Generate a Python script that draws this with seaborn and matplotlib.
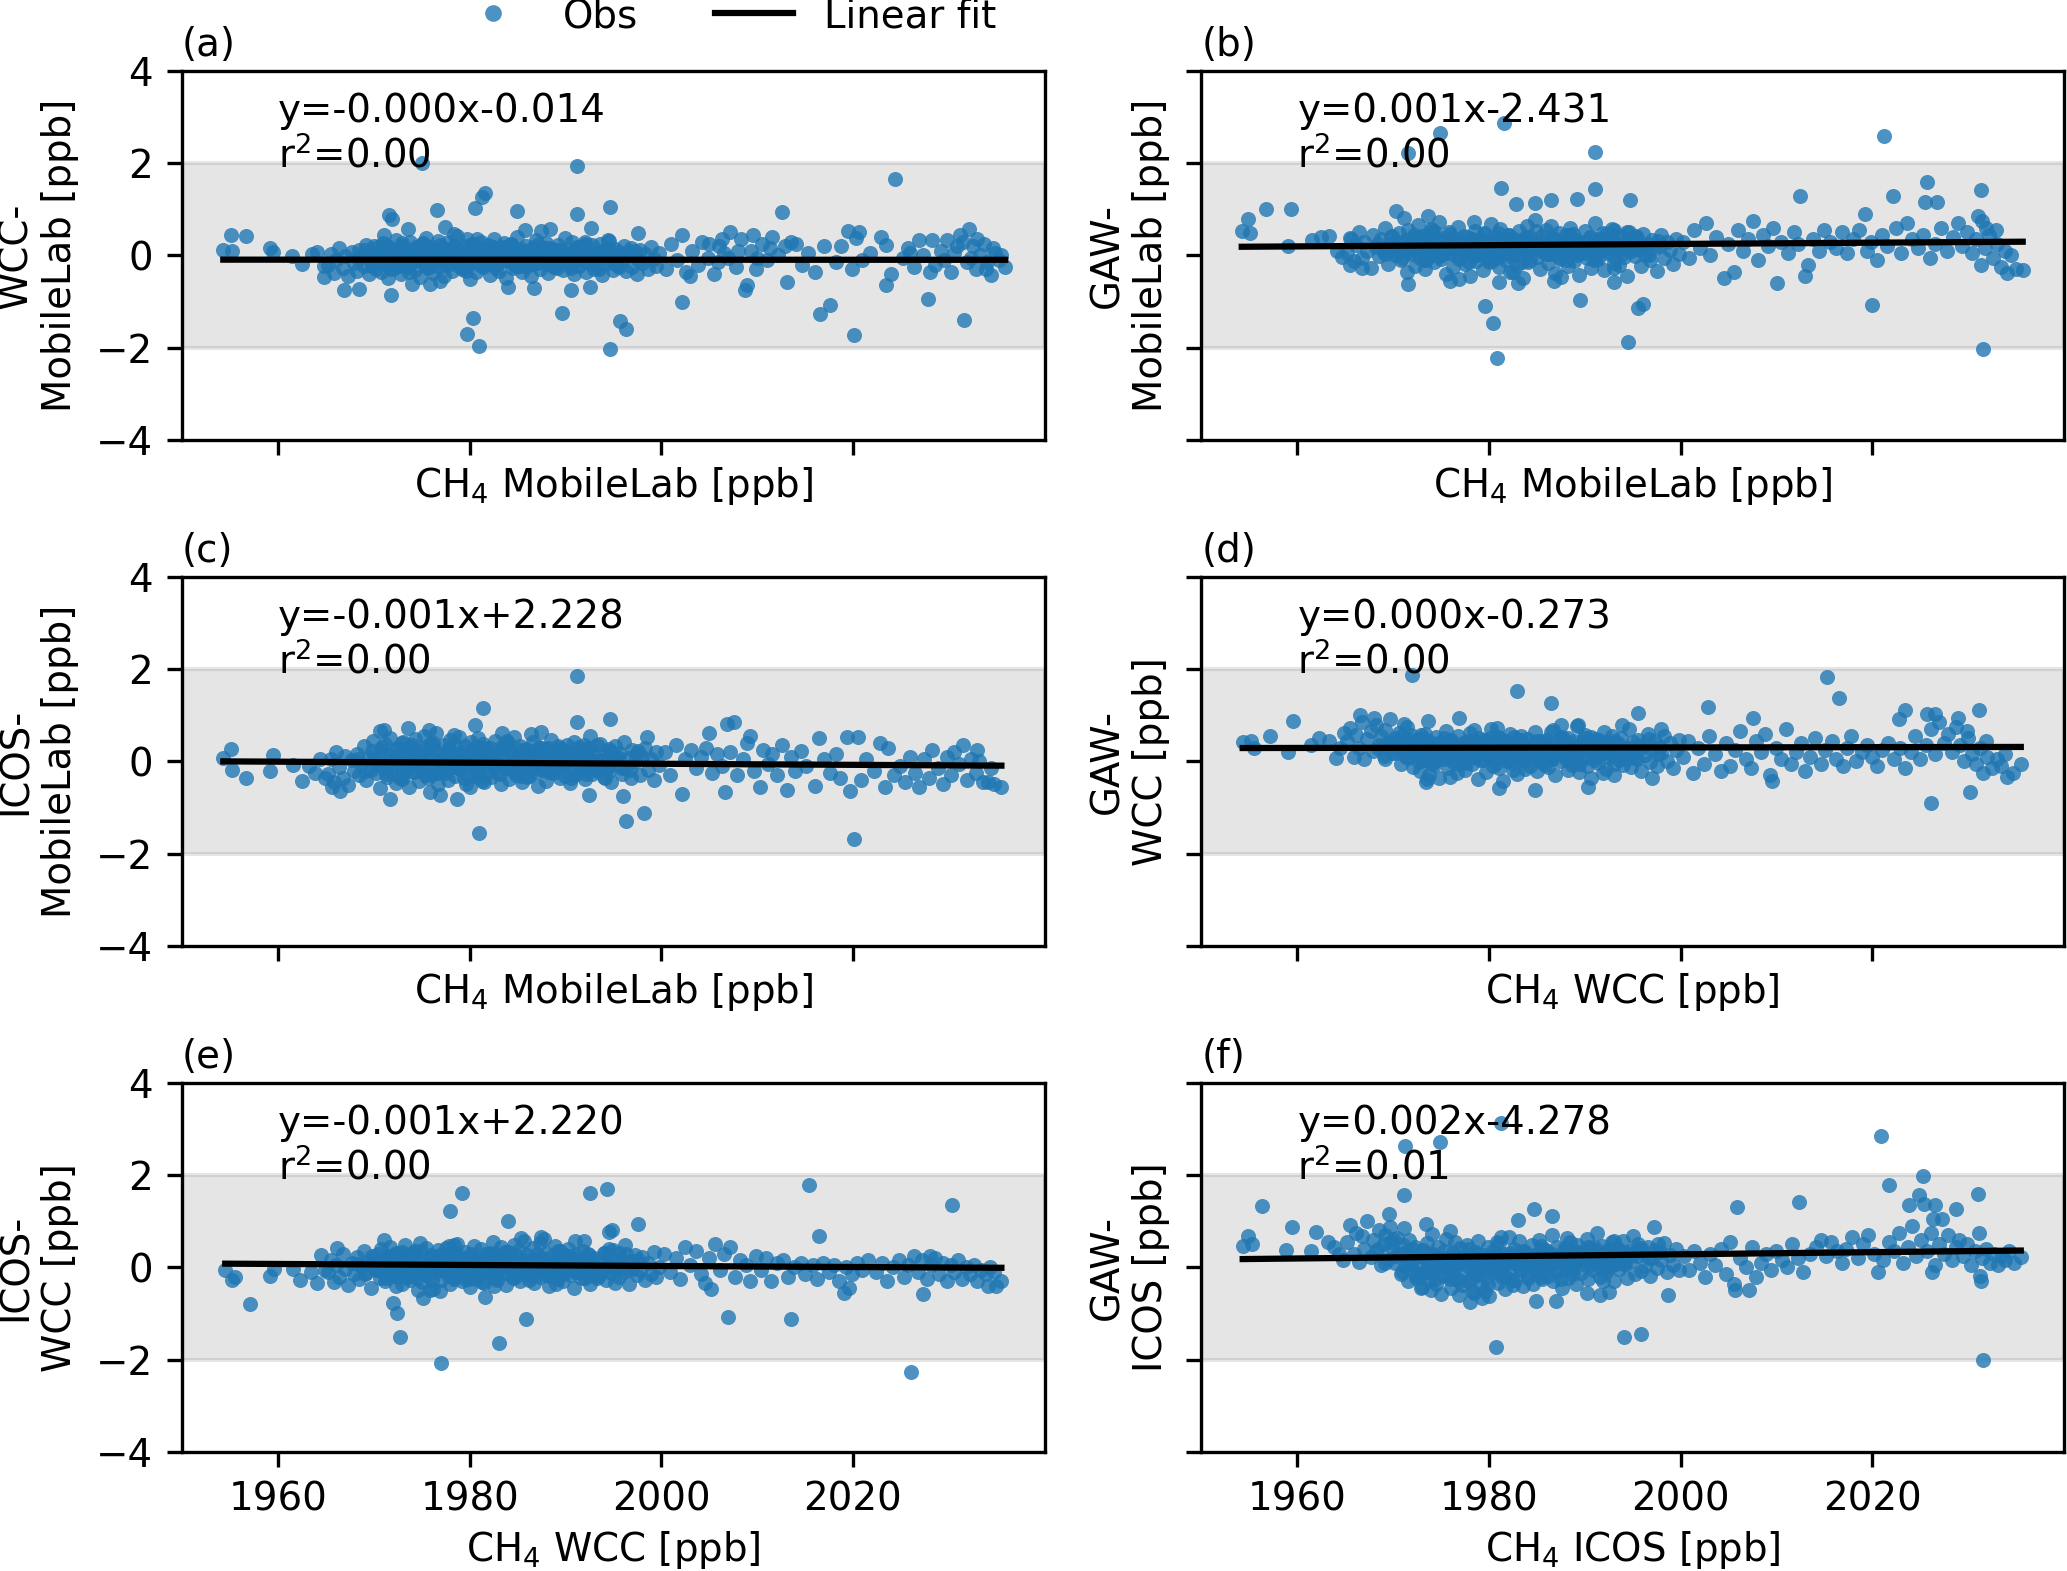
import numpy as np
import pandas as pd
import matplotlib
matplotlib.use("Agg")
import matplotlib.pyplot as plt
import seaborn as sns
from matplotlib.lines import Line2D

# CH4 values of the densely sampled core period (same observation events in every panel)
ch4_core = [
    1965.2, 1965.5, 1965.9, 1966.1, 1966.4, 1966.8, 1967.0, 1967.3, 1967.7, 1967.9,
    1968.2, 1968.5, 1968.7, 1969.0, 1969.2, 1969.5, 1969.7, 1969.9, 1970.2, 1970.4,
    1970.6, 1970.8, 1971.0, 1971.2, 1971.4, 1971.5, 1971.7, 1971.9, 1972.1, 1972.3,
    1972.4, 1972.6, 1972.8, 1973.0, 1973.1, 1973.3, 1973.5, 1973.7, 1973.8, 1974.0,
    1974.2, 1974.3, 1974.5, 1974.7, 1974.8, 1975.0, 1975.2, 1975.3, 1975.5, 1975.7,
    1975.8, 1976.0, 1976.2, 1976.3, 1976.5, 1976.7, 1976.8, 1977.0, 1977.2, 1977.3,
    1977.5, 1977.7, 1977.8, 1978.0, 1978.2, 1978.3, 1978.5, 1978.7, 1978.9, 1979.0,
    1979.2, 1979.4, 1979.5, 1979.7, 1979.9, 1980.0, 1980.2, 1980.4, 1980.5, 1980.7,
    1980.9, 1981.0, 1981.2, 1981.4, 1981.5, 1981.7, 1981.9, 1982.1, 1982.2, 1982.4,
    1982.6, 1982.7, 1982.9, 1983.1, 1983.3, 1983.4, 1983.6, 1983.8, 1984.0, 1984.1,
    1984.3, 1984.5, 1984.6, 1984.8, 1985.0, 1985.2, 1985.3, 1985.5, 1985.7, 1985.9,
    1986.0, 1986.2, 1986.4, 1986.6, 1986.7, 1986.9, 1987.1, 1987.3, 1987.4, 1987.6,
    1987.8, 1988.0, 1988.2, 1988.3, 1988.5, 1988.7, 1988.9, 1989.1, 1989.2, 1989.4,
    1989.6, 1989.8, 1990.0, 1990.2, 1990.3, 1990.5, 1990.7, 1990.9, 1991.1, 1991.3,
    1991.4, 1991.6, 1991.8, 1992.0, 1992.2, 1992.4, 1992.6, 1992.8, 1993.0, 1993.2,
    1993.4, 1993.6, 1993.8, 1994.0, 1994.2, 1994.4, 1994.6, 1994.8, 1995.0, 1995.2,
    1995.4, 1995.6, 1995.9, 1996.1, 1996.3, 1996.6, 1996.8, 1997.0, 1997.3, 1997.5,
    1997.8, 1998.0, 1998.3, 1998.6, 1998.9, 1999.2, 1999.5, 1999.8, 1971.1, 1976.9,
    1972.9, 1974.1, 1977.9, 1979.6, 1980.8, 1982.5, 1983.9, 1985.4, 1986.5, 1988.1,
    1989.0, 1990.6, 1991.9, 1993.1, 1994.5, 1973.6, 1975.9, 1978.4, 1981.3, 1987.5,
]
# extra observations in the densest part of the cloud
ch4_inner = [
    1968.4, 1969.1, 1969.8, 1970.3, 1970.9, 1971.3, 1971.8, 1972.2, 1972.7, 1973.2,
    1973.6, 1974.0, 1974.4, 1974.9, 1975.3, 1975.7, 1976.1, 1976.5, 1976.9, 1977.4,
    1977.8, 1978.2, 1978.6, 1979.1, 1979.5, 1979.9, 1980.3, 1980.7, 1981.1, 1981.6,
    1982.0, 1982.4, 1982.8, 1983.2, 1983.7, 1984.1, 1984.5, 1984.9, 1985.4, 1985.8,
    1986.2, 1986.6, 1987.0, 1987.5, 1987.9, 1988.3, 1988.8, 1989.2, 1989.7, 1990.1,
    1990.6, 1991.0, 1991.5, 1992.0, 1992.5, 1993.0, 1993.5, 1994.1, 1994.7, 1995.3,
    1971.6, 1972.5, 1973.4, 1974.2, 1975.1, 1975.9, 1976.7, 1977.6, 1978.4, 1979.3,
    1980.1, 1980.9, 1981.8, 1982.6, 1983.5, 1984.3, 1985.1, 1986.0, 1986.8, 1987.7,
    1988.5, 1989.4, 1990.3, 1991.2, 1992.2, 1993.3, 1994.4, 1995.6, 1996.7, 1997.6,
    1970.0, 1973.0, 1976.3, 1979.7, 1982.2, 1984.7, 1987.2, 1989.9, 1992.8, 1995.9,
]

# differences [ppb] for the core observations, one list per panel
dev_core_a = [
    -0.21, 0.04, -0.38, -0.10, 0.15, -0.27, -0.02, -0.45, 0.08, -0.16,
    -0.33, 0.11, -0.06, -0.24, 0.22, -0.41, -0.12, 0.03, -0.29, 0.18,
    -0.08, -0.35, 0.26, -0.19, 0.07, -0.50, 0.14, -0.04, -0.28, 0.33,
    -0.13, 0.01, -0.40, 0.21, -0.22, 0.09, -0.07, -0.36, 0.29, -0.15,
    0.05, -0.31, 0.17, -0.09, -0.47, 0.24, -0.18, 0.02, 0.38, -0.26,
    -0.05, 0.19, -0.39, 0.10, -0.14, 0.31, -0.25, -0.01, 0.16, -0.44,
    0.07, -0.20, 0.28, -0.11, -0.34, 0.13, -0.03, 0.42, -0.23, 0.00,
    -0.30, 0.20, -0.08, 0.35, -0.17, -0.52, 0.06, 0.25, -0.12, -0.37,
    0.11, -0.06, 0.30, -0.26, 0.04, -0.15, 0.22, -0.42, 0.15, -0.09,
    0.36, -0.21, 0.02, -0.33, 0.18, -0.04, 0.27, -0.48, 0.09, -0.13,
    0.24, -0.28, 0.05, -0.10, 0.40, -0.19, 0.12, -0.35, -0.02, 0.21,
    -0.24, 0.08, -0.45, 0.16, -0.07, 0.33, -0.16, 0.01, -0.30, 0.19,
    -0.11, 0.26, -0.38, 0.04, -0.20, 0.14, -0.05, -0.27, 0.23, -0.14,
    0.10, -0.32, 0.37, -0.08, -0.19, 0.06, 0.28, -0.40, 0.12, -0.02,
    -0.23, 0.17, -0.10, 0.30, -0.36, 0.03, -0.15, 0.22, -0.29, 0.08,
    -0.06, 0.25, -0.43, 0.11, -0.18, 0.34, -0.09, 0.02, -0.31, 0.14,
    -0.20, 0.07, -0.12, 0.20, -0.34, 0.00, 0.15, -0.26, 0.09, -0.40,
    0.12, -0.17, 0.04, -0.30, 0.18, -0.08, -0.22, 0.06, 0.44, -0.55,
    0.27, -0.12, 0.09, -0.33, 0.35, -0.05, 0.19, -0.24, 0.13, -0.16,
    0.03, -0.28, 0.21, -0.10, 0.31, 0.58, -0.61, 0.47, -0.18, 0.52,
]
dev_core_b = [
    0.05, 0.38, -0.12, 0.22, 0.51, -0.05, 0.30, 0.10, -0.28, 0.44,
    0.18, -0.02, 0.35, 0.08, 0.60, -0.18, 0.25, 0.42, 0.00, 0.15,
    0.48, -0.10, 0.28, 0.12, -0.35, 0.55, 0.20, 0.03, 0.37, -0.22,
    0.14, 0.66, -0.06, 0.31, 0.09, -0.30, 0.45, 0.19, -0.01, 0.58,
    0.26, -0.15, 0.40, 0.06, 0.72, -0.08, 0.33, 0.11, -0.40, 0.23,
    0.50, 0.02, 0.17, -0.25, 0.36, 0.13, 0.62, -0.04, 0.29, 0.07,
    -0.19, 0.41, 0.16, -0.45, 0.27, 0.04, 0.54, -0.12, 0.21, 0.34,
    0.10, -0.32, 0.47, 0.00, 0.24, -0.14, 0.68, 0.15, -0.05, 0.39,
    0.22, -0.26, 0.57, 0.08, 0.32, -0.09, 0.18, 0.45, -0.36, 0.12,
    0.35, 0.01, -0.21, 0.52, 0.14, 0.28, -0.48, 0.20, 0.63, 0.05,
    -0.11, 0.30, 0.17, 0.76, -0.03, 0.24, -0.29, 0.43, 0.09, 0.19,
    0.56, -0.17, 0.26, 0.04, 0.37, -0.38, 0.13, 0.49, -0.07, 0.31,
    0.02, 0.44, -0.23, 0.21, 0.60, 0.07, -0.13, 0.34, 0.16, -0.42,
    0.28, 0.11, 0.53, -0.05, 0.18, 0.40, -0.27, 0.08, 0.70, 0.23,
    -0.08, 0.35, 0.12, -0.31, 0.46, 0.19, 0.03, 0.58, -0.16, 0.27,
    0.15, -0.20, 0.42, 0.06, 0.29, -0.44, 0.51, 0.10, 0.22, -0.02,
    0.38, 0.14, -0.24, 0.47, 0.01, 0.25, -0.10, 0.33, 0.17, -0.33,
    0.20, 0.45, -0.06, 0.30, 0.12, -0.18, 0.36, 0.04, 0.81, -0.52,
    0.09, 0.55, -0.15, 0.32, 0.24, -0.37, 0.41, 0.13, 0.64, -0.09,
    0.27, 0.06, 0.48, -0.28, 0.16, 0.85, -0.55, 0.73, 0.00, -0.46,
]
dev_core_c = [
    -0.28, 0.06, -0.45, 0.20, -0.12, -0.35, 0.11, -0.52, 0.02, -0.20,
    0.15, -0.30, -0.05, 0.33, -0.40, 0.08, -0.18, 0.45, -0.26, 0.00,
    -0.58, 0.25, -0.10, 0.38, -0.33, 0.12, 0.51, -0.22, 0.04, -0.47,
    0.30, -0.14, 0.19, -0.38, 0.43, -0.03, 0.27, -0.55, 0.09, 0.36,
    -0.24, 0.48, 0.01, -0.43, 0.22, -0.16, 0.56, -0.06, 0.31, -0.36,
    0.14, -0.29, 0.40, -0.09, 0.62, -0.48, 0.17, 0.03, -0.21, 0.35,
    -0.13, 0.27, -0.41, 0.46, -0.02, 0.21, -0.31, 0.10, 0.53, -0.17,
    0.07, -0.37, 0.33, -0.11, 0.18, -0.56, 0.42, -0.04, 0.24, -0.27,
    0.50, -0.19, 0.05, 0.37, -0.44, 0.13, -0.08, 0.29, -0.33, 0.16,
    -0.02, 0.44, -0.25, 0.10, -0.50, 0.32, 0.06, -0.15, 0.39, -0.38,
    0.20, -0.07, 0.52, -0.30, 0.11, -0.20, 0.34, -0.45, 0.02, 0.26,
    -0.34, 0.15, -0.12, 0.41, -0.03, 0.23, -0.53, 0.08, 0.30, -0.18,
    0.12, -0.42, 0.28, -0.06, 0.47, -0.26, 0.04, -0.14, 0.19, -0.35,
    -0.09, 0.25, -0.31, 0.36, 0.00, -0.47, 0.17, 0.43, -0.22, 0.06,
    0.31, -0.16, 0.09, -0.39, 0.22, -0.05, 0.55, -0.28, 0.13, -0.10,
    -0.21, 0.38, 0.03, -0.34, 0.16, -0.12, 0.26, -0.44, 0.08, 0.33,
    -0.06, 0.19, -0.27, 0.42, -0.15, 0.07, -0.37, 0.24, -0.01, 0.15,
    -0.30, 0.10, 0.28, -0.18, 0.05, -0.40, 0.20, -0.08, 0.68, -0.72,
    0.40, -0.23, 0.14, -0.49, 0.32, -0.07, 0.45, -0.31, 0.21, -0.12,
    0.18, -0.36, 0.35, 0.01, -0.20, 0.72, -0.66, 0.58, -0.43, 0.64,
]
dev_core_d = [
    0.45, 0.72, 0.10, 0.58, 0.30, 0.85, 0.05, 0.48, 0.66, 0.22,
    0.80, 0.35, 0.55, 0.12, 0.69, 0.40, 0.91, 0.18, 0.50, 0.28,
    0.62, -0.05, 0.44, 0.20, 0.75, 0.08, 0.36, 0.57, -0.12, 0.31,
    0.15, 0.49, -0.20, 0.38, 0.02, 0.60, 0.25, -0.30, 0.43, 0.11,
    0.33, -0.08, 0.52, 0.19, -0.35, 0.41, 0.06, 0.28, 0.65, -0.15,
    0.24, 0.47, -0.02, 0.35, 0.13, -0.25, 0.54, 0.21, 0.04, 0.39,
    -0.18, 0.30, 0.16, 0.61, -0.06, 0.42, 0.09, 0.26, -0.38, 0.50,
    0.20, 0.03, 0.46, -0.22, 0.34, 0.14, 0.70, -0.10, 0.27, 0.08,
    0.52, -0.14, 0.37, 0.18, -0.42, 0.45, 0.01, 0.29, 0.59, -0.04,
    0.23, 0.40, -0.27, 0.12, 0.56, 0.05, 0.33, -0.16, 0.48, 0.17,
    -0.09, 0.36, 0.10, 0.63, -0.21, 0.25, 0.44, -0.01, 0.31, 0.15,
    0.47, -0.12, 0.28, 0.07, 0.68, -0.30, 0.19, 0.40, 0.00, 0.53,
    0.11, 0.34, -0.19, 0.50, 0.22, -0.07, 0.45, 0.14, 0.76, -0.24,
    0.30, 0.05, 0.58, -0.11, 0.26, 0.41, -0.36, 0.18, 0.49, 0.09,
    -0.03, 0.43, 0.21, 0.64, -0.17, 0.32, 0.10, 0.55, -0.29, 0.24,
    0.38, 0.02, 0.51, -0.08, 0.29, 0.16, 0.71, -0.13, 0.42, 0.20,
    0.06, 0.47, -0.20, 0.35, 0.13, 0.60, -0.02, 0.27, 0.44, -0.10,
    0.32, 0.18, 0.54, 0.00, 0.39, -0.15, 0.25, 0.46, 0.82, 0.95,
    0.57, -0.06, 0.41, 0.23, 0.73, -0.18, 0.36, 0.11, 0.64, 0.02,
    0.29, 0.52, -0.25, 0.44, 0.16, 0.88, -0.33, 0.67, 0.48, 0.78,
]
dev_core_e = [
    -0.10, 0.15, -0.32, 0.05, -0.20, 0.28, -0.04, -0.38, 0.10, -0.15,
    0.22, -0.26, 0.02, 0.35, -0.12, 0.08, -0.44, 0.18, -0.06, 0.30,
    -0.22, 0.40, 0.00, -0.30, 0.25, -0.08, 0.45, -0.18, 0.12, -0.40,
    0.32, -0.02, 0.20, -0.35, 0.06, 0.48, -0.14, 0.27, -0.27, 0.14,
    -0.07, 0.36, -0.24, 0.09, 0.52, -0.31, 0.17, -0.01, 0.41, -0.19,
    0.04, 0.26, -0.47, 0.13, -0.11, 0.38, 0.00, -0.28, 0.21, -0.05,
    0.43, -0.16, 0.11, -0.36, 0.29, 0.03, -0.21, 0.50, -0.09, 0.16,
    -0.30, 0.07, 0.34, -0.13, 0.19, -0.42, 0.24, -0.03, 0.46, -0.25,
    0.10, -0.18, 0.39, 0.01, -0.33, 0.22, -0.08, 0.31, -0.15, 0.55,
    -0.04, 0.28, -0.27, 0.15, 0.44, -0.12, 0.06, -0.38, 0.33, 0.00,
    0.20, -0.22, 0.49, -0.06, 0.12, 0.37, -0.29, 0.08, 0.58, -0.14,
    0.27, -0.10, 0.02, 0.42, -0.34, 0.18, -0.02, 0.53, -0.20, 0.11,
    -0.15, 0.32, 0.06, -0.40, 0.23, -0.07, 0.47, 0.14, -0.25, 0.36,
    0.09, -0.30, 0.26, -0.01, 0.40, -0.17, 0.13, -0.45, 0.30, -0.05,
    0.17, -0.24, 0.35, 0.04, -0.12, 0.28, -0.37, 0.10, 0.21, -0.08,
    -0.19, 0.14, -0.03, 0.31, -0.28, 0.07, 0.24, -0.13, 0.38, -0.33,
    0.05, -0.20, 0.19, -0.09, 0.30, -0.35, 0.12, -0.02, 0.26, -0.16,
    -0.06, 0.22, -0.27, 0.10, -0.14, 0.33, -0.21, 0.01, 0.60, -0.52,
    0.34, -0.11, 0.46, -0.26, 0.15, -0.40, 0.27, 0.63, -0.18, 0.08,
    -0.35, 0.20, 0.57, -0.12, 0.39, 0.25, -0.50, 0.48, -0.31, 0.66,
]
dev_core_f = [
    0.55, 0.92, 0.30, 0.75, 0.12, 0.68, 0.40, 1.00, 0.22, 0.60,
    0.35, 0.82, 0.05, 0.50, 0.70, 0.18, 0.88, 0.42, 0.10, 0.64,
    0.28, -0.15, 0.48, 0.02, 0.36, -0.30, 0.60, 0.14, -0.05, 0.44,
    -0.22, 0.25, 0.08, -0.42, 0.38, -0.10, 0.52, -0.28, 0.16, -0.50,
    0.30, -0.06, -0.35, 0.45, 0.04, -0.58, 0.20, -0.18, 0.62, -0.02,
    0.12, -0.45, 0.34, -0.12, 0.56, -0.26, 0.07, 0.41, -0.38, 0.18,
    -0.08, 0.48, -0.30, 0.22, -0.52, 0.10, 0.33, -0.16, 0.58, 0.00,
    -0.40, 0.27, 0.05, -0.24, 0.44, -0.62, 0.15, 0.36, -0.10, 0.21,
    -0.33, 0.53, 0.02, -0.20, 0.30, -0.47, 0.11, 0.66, -0.14, 0.24,
    0.40, -0.28, 0.09, 0.57, -0.05, 0.19, -0.40, 0.31, 0.03, -0.22,
    0.14, 0.49, -0.35, 0.26, -0.12, 0.60, 0.06, -0.25, 0.38, -0.02,
    0.33, -0.18, 0.12, 0.70, -0.30, 0.21, 0.45, -0.08, 0.17, -0.44,
    0.08, 0.39, -0.22, 0.27, 0.55, -0.04, 0.13, -0.36, 0.48, 0.20,
    -0.12, 0.34, 0.05, 0.62, -0.26, 0.16, 0.42, -0.06, 0.25, 0.74,
    0.10, -0.20, 0.46, 0.22, -0.10, 0.36, 0.00, 0.54, -0.30, 0.28,
    0.41, -0.04, 0.19, 0.58, 0.07, -0.24, 0.35, 0.13, 0.67, -0.14,
    0.24, 0.50, -0.08, 0.31, 0.02, 0.44, -0.18, 0.20, 0.38, -0.01,
    0.33, 0.15, 0.52, -0.10, 0.27, 0.06, 0.40, -0.05, 0.85, -0.60,
    -0.45, 0.72, 0.40, -0.52, 0.55, -0.38, 0.16, 0.47, 0.10, 0.63,
    0.35, 0.05, -0.30, 0.58, 0.30, 0.10, 0.78, -0.55, 0.66, -0.25,
]

# differences [ppb] for the inner (densest) observations, one list per panel
dev_inner_a = [
    -0.05, 0.12, -0.22, 0.03, -0.15, 0.20, -0.30, 0.08, -0.10, 0.15,
    -0.25, 0.00, 0.18, -0.12, 0.06, -0.28, 0.10, -0.03, 0.22, -0.18,
    0.04, -0.08, 0.16, -0.24, 0.09, -0.14, 0.25, -0.02, -0.20, 0.13,
    -0.07, 0.19, -0.27, 0.05, -0.11, 0.21, -0.16, 0.01, 0.14, -0.23,
    0.07, -0.19, 0.23, -0.04, -0.13, 0.17, -0.26, 0.11, -0.06, 0.02,
    -0.21, 0.14, -0.09, 0.24, -0.17, 0.06, -0.29, 0.10, -0.01, -0.14,
    0.18, -0.22, 0.02, -0.10, 0.26, -0.16, 0.08, -0.05, 0.20, -0.27,
    0.12, -0.02, -0.18, 0.15, -0.08, 0.22, -0.24, 0.04, -0.12, 0.17,
    -0.20, 0.09, -0.06, 0.19, -0.15, 0.00, 0.13, -0.26, 0.07, -0.11,
    0.21, -0.17, 0.05, -0.09, 0.16, -0.23, 0.11, -0.03, -0.19, 0.03,
]
dev_inner_b = [
    0.25, 0.02, 0.40, 0.15, -0.05, 0.33, 0.08, 0.45, 0.18, -0.10,
    0.30, 0.12, 0.50, -0.02, 0.22, 0.38, 0.05, 0.27, -0.08, 0.42,
    0.16, 0.35, 0.00, 0.24, 0.48, 0.10, -0.12, 0.32, 0.20, 0.06,
    0.44, -0.04, 0.28, 0.13, 0.36, -0.15, 0.21, 0.52, 0.09, 0.30,
    0.03, 0.41, 0.17, -0.06, 0.34, 0.23, 0.47, 0.01, 0.26, 0.14,
    0.39, -0.09, 0.19, 0.31, 0.07, 0.55, 0.11, -0.03, 0.29, 0.43,
    0.15, 0.37, -0.11, 0.22, 0.04, 0.46, 0.25, 0.12, -0.01, 0.33,
    0.18, 0.49, 0.08, 0.28, -0.14, 0.40, 0.20, 0.02, 0.35, 0.16,
    0.44, 0.06, 0.26, -0.07, 0.38, 0.13, 0.51, 0.21, 0.00, 0.32,
    0.10, 0.42, 0.24, -0.05, 0.36, 0.17, 0.29, 0.05, 0.45, 0.19,
]
dev_inner_c = [
    0.05, -0.20, 0.22, -0.08, 0.31, -0.27, 0.12, -0.02, -0.35, 0.18,
    -0.12, 0.28, -0.04, 0.15, -0.30, 0.09, 0.36, -0.18, 0.02, -0.25,
    0.20, -0.10, 0.33, -0.06, 0.11, -0.32, 0.25, -0.15, 0.07, 0.29,
    -0.22, 0.01, 0.17, -0.28, 0.38, -0.09, 0.13, -0.19, 0.24, -0.03,
    -0.31, 0.19, 0.06, -0.14, 0.27, -0.24, 0.10, 0.34, -0.07, 0.00,
    0.21, -0.29, 0.14, -0.11, 0.30, -0.17, 0.04, -0.36, 0.23, 0.08,
    -0.05, 0.26, -0.21, 0.16, -0.01, 0.37, -0.26, 0.12, -0.13, 0.20,
    0.03, -0.33, 0.18, -0.08, 0.31, -0.16, 0.09, 0.24, -0.23, 0.05,
    -0.10, 0.28, -0.02, 0.15, -0.27, 0.35, -0.12, 0.07, -0.19, 0.22,
    0.11, -0.30, 0.25, -0.04, 0.17, -0.22, 0.32, -0.09, 0.02, -0.15,
]
dev_inner_d = [
    0.30, 0.05, 0.42, 0.18, 0.55, 0.10, 0.36, 0.22, -0.02, 0.48,
    0.14, 0.33, 0.01, 0.26, 0.50, 0.08, 0.39, 0.20, -0.05, 0.31,
    0.45, 0.12, 0.28, 0.03, 0.37, 0.19, 0.52, -0.04, 0.24, 0.41,
    0.09, 0.34, 0.17, 0.47, 0.00, 0.29, 0.13, 0.44, 0.21, -0.07,
    0.35, 0.06, 0.27, 0.51, 0.15, 0.38, -0.01, 0.23, 0.43, 0.11,
    0.32, 0.02, 0.46, 0.19, 0.27, -0.06, 0.40, 0.16, 0.30, 0.08,
    0.49, 0.21, 0.04, 0.36, 0.13, 0.44, 0.25, -0.03, 0.33, 0.18,
    0.07, 0.41, 0.22, 0.53, 0.10, 0.29, 0.00, 0.38, 0.15, 0.46,
    0.24, -0.05, 0.35, 0.12, 0.42, 0.27, 0.06, 0.31, 0.48, 0.17,
    0.39, 0.09, 0.26, 0.44, 0.03, 0.34, 0.20, 0.50, 0.14, 0.28,
]
dev_inner_e = [
    0.08, -0.15, 0.25, -0.05, 0.18, -0.24, 0.02, 0.30, -0.10, 0.12,
    -0.20, 0.22, -0.02, 0.35, -0.13, 0.06, -0.28, 0.16, 0.27, -0.07,
    0.10, -0.18, 0.32, -0.01, 0.20, -0.26, 0.04, 0.14, -0.11, 0.28,
    -0.04, 0.19, -0.22, 0.09, 0.33, -0.14, 0.01, 0.24, -0.08, 0.15,
    -0.27, 0.11, 0.29, -0.03, 0.17, -0.19, 0.07, 0.36, -0.12, 0.03,
    0.21, -0.09, 0.13, -0.23, 0.26, 0.00, -0.16, 0.31, 0.05, -0.06,
    0.18, -0.21, 0.09, 0.34, -0.11, 0.14, -0.02, 0.23, -0.25, 0.06,
    0.28, -0.08, 0.16, -0.17, 0.02, 0.30, -0.13, 0.11, -0.04, 0.20,
    -0.19, 0.07, 0.25, -0.10, 0.13, -0.24, 0.04, 0.32, -0.06, 0.17,
    0.00, -0.15, 0.22, -0.03, 0.27, -0.20, 0.10, 0.19, -0.09, 0.12,
]
dev_inner_f = [
    0.40, 0.10, 0.55, 0.25, -0.10, 0.30, 0.05, 0.38, -0.15, 0.20,
    -0.05, 0.28, -0.25, 0.12, 0.35, -0.18, 0.08, 0.25, -0.30, 0.15,
    0.02, -0.22, 0.30, -0.08, 0.18, -0.35, 0.10, 0.32, -0.12, 0.05,
    0.22, -0.28, 0.14, -0.02, 0.36, -0.16, 0.07, 0.26, -0.20, 0.12,
    0.00, 0.30, -0.10, 0.20, 0.42, 0.06, -0.14, 0.27, 0.15, 0.35,
    0.10, 0.45, 0.18, -0.05, 0.30, 0.22, 0.40, 0.08, 0.25, 0.33,
    0.20, -0.18, 0.32, -0.10, 0.15, -0.25, 0.06, 0.28, -0.14, 0.18,
    -0.04, 0.24, -0.20, 0.10, 0.34, 0.02, 0.22, 0.38, 0.12, 0.30,
    0.05, 0.26, 0.44, 0.16, 0.35, 0.08, 0.28, 0.40, 0.20, 0.50,
    0.62, -0.15, 0.25, -0.08, 0.32, 0.00, 0.18, 0.36, 0.14, 0.42,
]

# sparse observations and outliers outside the core cloud: (CH4, difference)
obs_extra_a = [
    (1954.3, 0.12), (1955.2, 0.09), (1955.1, 0.45), (1956.7, 0.43), (1959.2, 0.15), (1959.5, 0.08),
    (1961.5, -0.02), (1962.5, -0.18), (1963.6, 0.02), (1964.1, 0.07), (1964.8, -0.24), (1964.8, -0.47),
    (1966.9, -0.76), (1968.5, -0.73), (1971.6, 0.87), (1971.9, 0.78), (1971.8, -0.85), (1975.0, 2.00),
    (1976.6, 0.98), (1979.7, -1.71), (1980.4, -1.36), (1980.6, 1.02), (1981.0, -1.96), (1981.3, 1.27),
    (1981.6, 1.36), (1984.9, 0.97), (1989.6, -1.24), (1991.2, 0.89), (1991.2, 1.94), (1994.7, 1.04),
    (1994.7, -2.02), (1995.7, -1.43), (1996.3, -1.60), (1977.4, 0.62), (1985.8, 0.55), (1988.4, 0.58),
    (1992.7, 0.60), (1974.0, -0.62), (1986.7, -0.70), (1992.6, -0.68), (1990.6, -0.75), (1984.0, -0.68),
    (1997.6, 0.48),
    (2000.5, -0.30), (2001.0, 0.25), (2001.6, -0.10), (2002.2, -1.02), (2002.2, 0.45), (2002.6, -0.35),
    (2003.2, 0.10), (2003.8, -0.20), (2004.3, 0.30), (2004.9, -0.05), (2005.5, -0.40), (2006.0, 0.20),
    (2006.6, 0.05), (2007.2, 0.50), (2007.8, -0.25), (2008.3, 0.35), (2008.7, -0.76), (2009.0, -0.65),
    (2009.4, 0.10), (2009.9, -0.30), (2010.5, 0.25), (2011.0, -0.10), (2011.6, 0.40), (2012.2, 0.00),
    (2012.6, 0.95), (2013.1, -0.58), (2013.5, 0.30), (2014.1, 0.25), (2014.7, -0.20), (2015.3, 0.05),
    (2016.0, -0.35), (2016.6, -1.27), (2017.0, 0.20), (2017.6, -1.07), (2018.2, -0.15), (2018.8, 0.20),
    (2019.5, 0.53), (2019.9, -0.30), (2020.3, 0.38), (2020.6, 0.51), (2020.1, -1.72), (2021.0, -0.10),
    (2021.8, 0.05), (2022.9, 0.39), (2023.5, 0.22), (2023.5, -0.65), (2024.0, -0.41), (2024.4, 1.65),
    (2025.2, -0.05), (2025.8, 0.15), (2026.4, -0.25), (2026.9, 0.34), (2027.3, 0.00), (2027.8, -0.95),
    (2028.3, 0.33), (2028.6, -0.20), (2029.2, 0.10), (2029.8, 0.33), (2030.2, -0.35), (2030.6, 0.05),
    (2031.2, 0.44), (2031.6, -1.40), (2031.9, -0.15), (2032.1, 0.57), (2032.5, 0.20), (2032.9, -0.30),
    (2033.3, 0.00), (2033.7, 0.25), (2034.0, -0.15), (2034.4, -0.42), (2034.8, 0.05), (2035.3, -0.10),
    (2035.9, -0.25), (2003.0, -0.45), (2005.0, 0.25), (2005.9, -0.15), (2006.3, 0.35), (2007.0, -0.05),
    (2008.0, 0.10), (2009.6, 0.45), (2010.0, -0.05), (2011.3, 0.15), (2012.9, 0.20), (2026.0, 0.05),
    (2028.0, -0.35), (2029.5, -0.10), (2030.9, 0.20), (2032.3, -0.05), (2033.0, 0.35), (2033.9, -0.30),
    (2034.6, 0.15), (2035.5, 0.00), (2031.5, 0.30),
]
obs_extra_b = [
    (1954.2, 0.52), (1955.1, 0.49), (1954.9, 0.79), (1956.7, 1.00), (1959.3, 1.01), (1959.0, 0.20),
    (1961.5, 0.33), (1962.5, 0.39), (1963.3, 0.43), (1964.1, 0.10), (1964.7, -0.04), (1965.5, -0.20),
    (1966.8, -0.28), (1965.6, 0.35),
    (1981.6, 2.87), (1974.9, 2.66), (1971.6, 2.22), (1991.1, 2.25), (2021.2, 2.59), (1981.3, 1.46),
    (1991.1, 1.43), (2025.7, 1.60), (2031.3, 1.42), (2022.2, 1.28), (2012.5, 1.29), (1994.7, 1.21),
    (1982.8, 1.11), (1984.8, 1.14), (1986.5, 1.20), (1989.2, 1.22), (2025.5, 1.15), (2026.8, 1.15),
    (1970.3, 0.97), (2019.2, 0.90), (2031.0, 0.86), (2031.5, 0.75), (1980.8, -2.22), (1980.4, -1.46),
    (1979.6, -1.10), (1989.5, -0.96), (1994.5, -1.87), (1995.6, -1.14), (1996.1, -1.06), (2020.0, -1.08),
    (2031.6, -2.04), (1971.6, -0.63), (1981.1, -0.58), (1983.0, -0.60), (1986.8, -0.55), (1993.0, -0.58),
    (2000.3, 0.30), (2000.9, -0.05), (2001.4, 0.55), (2002.0, 0.15), (2002.6, 0.70), (2003.1, 0.00),
    (2003.7, 0.40), (2004.5, -0.48), (2004.9, 0.25), (2005.6, -0.37), (2006.0, 0.55), (2006.5, 0.10),
    (2007.0, 0.35), (2007.6, 0.75), (2008.1, -0.10), (2008.6, 0.45), (2009.1, 0.20), (2009.6, 0.60),
    (2010.1, -0.59), (2010.5, 0.30), (2011.2, 0.05), (2011.8, 0.50), (2012.3, 0.25), (2013.0, -0.44),
    (2013.3, -0.20), (2013.8, 0.35), (2014.4, 0.10), (2015.0, 0.55), (2015.6, 0.30), (2016.2, 0.15),
    (2016.8, 0.50), (2017.4, 0.05), (2018.0, 0.35), (2018.6, 0.55), (2019.4, 0.10), (2019.9, 0.30),
    (2020.5, -0.10), (2021.0, 0.45), (2021.5, 0.20), (2022.5, 0.60), (2023.0, 0.05), (2023.6, 0.70),
    (2024.2, 0.35), (2024.8, 0.15), (2025.3, 0.45), (2026.0, -0.05), (2026.5, 0.25), (2027.2, 0.60),
    (2027.8, 0.10), (2028.4, 0.40), (2028.9, 0.70), (2029.4, 0.20), (2029.9, 0.50), (2030.4, 0.05),
    (2030.8, 0.35), (2031.3, -0.20), (2031.8, 0.15), (2032.2, 0.45), (2032.6, -0.05), (2033.0, 0.25),
    (2033.4, -0.25), (2033.9, 0.10), (2034.1, -0.39), (2034.5, 0.00), (2035.0, -0.30), (2035.7, -0.32),
    (2032.9, 0.55), (2031.9, 0.60),
]
obs_extra_c = [
    (1954.3, 0.07), (1955.1, 0.27), (1955.2, -0.18), (1956.7, -0.37), (1959.2, -0.20), (1959.5, 0.13),
    (1961.6, -0.08), (1962.5, -0.42), (1963.2, -0.10), (1963.9, -0.25), (1964.4, 0.05), (1964.9, -0.35),
    (1965.6, -0.55), (1966.5, -0.65),
    (1991.2, 1.85), (1981.4, 1.16), (1991.2, 0.85), (1994.7, 0.93), (2006.9, 0.82), (2007.6, 0.85),
    (2005.0, 0.61), (1981.0, -1.56), (1996.3, -1.30), (1998.2, -1.13), (2020.1, -1.69), (1971.7, -0.82),
    (1978.7, -0.82), (1996.0, -0.76), (1970.6, 0.65), (1975.8, 0.68), (1980.6, 0.80), (1983.4, 0.62),
    (1986.4, 0.60), (1992.5, -0.72), (1998.5, 0.52),
    (2000.4, 0.20), (2000.9, -0.30), (2001.5, 0.35), (2002.2, -0.71), (2002.5, 0.05), (2003.1, 0.25),
    (2003.6, -0.15), (2004.2, 0.10), (2004.7, 0.30), (2005.3, -0.25), (2005.8, 0.15), (2006.3, -0.10),
    (2006.7, -0.67), (2007.2, 0.20), (2007.9, -0.30), (2008.5, 0.05), (2009.0, 0.40), (2009.3, 0.55),
    (2009.7, -0.20), (2010.3, -0.56), (2010.6, 0.25), (2011.1, -0.05), (2011.6, 0.15), (2012.1, -0.30),
    (2012.6, 0.35), (2013.1, -0.62), (2013.5, 0.10), (2014.0, -0.20), (2014.6, 0.22), (2015.1, -0.10),
    (2016.0, -0.53), (2016.5, 0.50), (2017.0, 0.05), (2017.6, -0.25), (2018.2, 0.15), (2018.7, -0.35),
    (2019.4, 0.52), (2019.7, -0.64), (2020.5, 0.52), (2020.9, -0.40), (2021.4, 0.05), (2022.2, -0.20),
    (2022.8, 0.40), (2023.4, -0.55), (2023.7, 0.30), (2024.3, -0.30), (2024.9, -0.10), (2025.4, -0.45),
    (2026.0, 0.10), (2026.5, -0.25), (2026.9, -0.55), (2027.4, 0.05), (2027.9, -0.35), (2028.3, 0.25),
    (2028.9, -0.15), (2029.4, -0.50), (2029.8, 0.10), (2030.2, -0.30), (2030.6, 0.20), (2031.1, -0.05),
    (2031.5, 0.35), (2031.9, -0.40), (2032.3, 0.05), (2032.8, -0.25), (2033.2, 0.00), (2033.6, -0.45),
    (2034.1, -0.45), (2034.7, -0.50), (2035.5, -0.55), (2033.0, 0.25), (2034.4, -0.15),
]
obs_extra_d = [
    (1954.3, 0.43), (1955.2, 0.45), (1955.5, 0.29), (1957.1, 0.54), (1959.0, 0.20), (1959.5, 0.88),
    (1961.4, 0.35), (1962.3, 0.50), (1963.3, 0.45), (1964.0, 0.07), (1964.5, 0.30), (1964.9, 0.62),
    (1972.0, 1.87), (1982.9, 1.53), (1986.5, 1.27), (2002.9, 1.19), (2015.3, 1.82), (2016.5, 1.38),
    (1995.6, 1.06), (2007.6, 0.95), (2023.4, 1.11), (2022.8, 0.93), (2025.7, 1.02), (2026.6, 1.03),
    (2031.1, 1.11), (2028.9, 0.95), (2026.1, -0.90), (2030.2, -0.66), (2034.1, -0.34), (2034.7, -0.26),
    (2035.5, -0.05), (1981.1, -0.58), (1984.8, -0.61), (1990.3, -0.56), (1973.4, -0.45), (1973.5, -0.38),
    (1966.5, 1.00), (1968.0, 0.95), (1989.3, 0.78), (1993.9, 0.80), (1997.0, -0.35), (1998.0, 0.70),
    (2000.3, 0.10), (2000.8, 0.45), (2001.3, -0.25), (2001.8, 0.30), (2002.4, -0.05), (2003.0, 0.55),
    (2003.6, 0.15), (2004.2, -0.20), (2004.7, 0.40), (2005.2, -0.10), (2005.7, 0.25), (2006.2, 0.65),
    (2006.8, 0.05), (2007.3, -0.15), (2007.9, 0.45), (2008.4, 0.20), (2008.8, 0.60), (2009.3, -0.30),
    (2009.5, -0.42), (2010.0, 0.30), (2010.5, 0.05), (2011.0, 0.70), (2011.5, -0.05), (2012.0, 0.20),
    (2012.6, 0.40), (2013.0, -0.20), (2013.5, 0.10), (2014.0, 0.50), (2014.6, -0.05), (2015.1, 0.25),
    (2015.8, 0.45), (2016.2, 0.05), (2016.9, -0.10), (2017.4, 0.30), (2017.8, 0.55), (2018.3, 0.00),
    (2018.9, 0.20), (2019.5, 0.35), (2020.0, 0.10), (2020.5, -0.10), (2021.0, 0.25), (2021.6, 0.40),
    (2022.3, 0.05), (2022.9, 0.30), (2023.4, -0.15), (2024.0, 0.20), (2024.5, 0.55), (2025.0, 0.05),
    (2025.6, 0.35), (2026.1, 0.70), (2026.5, 0.15), (2027.0, 0.85), (2027.5, 0.40), (2027.9, 0.60),
    (2028.3, 0.20), (2028.7, 0.75), (2029.2, 0.35), (2029.6, 0.00), (2030.0, 0.50), (2030.4, 0.15),
    (2030.8, -0.05), (2031.2, 0.30), (2031.6, -0.25), (2032.0, 0.10), (2032.5, -0.15), (2033.0, 0.05),
    (2033.4, -0.10), (2033.9, 0.15), (2031.9, 0.45), (2029.9, 0.65),
]
obs_extra_e = [
    (1954.5, -0.05), (1955.5, -0.20), (1955.2, -0.28), (1957.1, -0.80), (1959.2, -0.19), (1959.6, -0.03),
    (1961.6, -0.03), (1962.3, -0.28), (1963.5, -0.10), (1964.1, -0.33), (1964.5, 0.27), (1964.9, -0.05),
    (2015.4, 1.78), (2030.3, 1.35), (1979.2, 1.62), (1992.6, 1.62), (1994.3, 1.69), (1978.0, 1.22),
    (1984.0, 1.01), (1997.6, 0.93), (2016.5, 0.68), (1994.5, 0.76), (1994.9, 0.81), (1966.2, 0.42),
    (1972.0, -0.78), (1972.4, -0.98), (1972.7, -1.50), (1977.0, -2.07), (1983.1, -1.64), (1985.9, -1.11),
    (1975.1, -0.67), (1974.6, -0.50), (1981.6, -0.64), (2007.0, -1.07), (2013.5, -1.11), (2026.1, -2.26),
    (2027.3, -0.57), (2019.1, -0.55), (2019.6, -0.44), (2005.2, -0.47), (2004.6, -0.33), (1987.8, 0.62),
    (1991.0, 0.58), (1996.2, 0.48),
    (2000.3, 0.30), (2000.9, -0.10), (2001.5, 0.20), (2002.0, -0.25), (2002.5, 0.45), (2003.0, 0.05),
    (2003.6, 0.35), (2004.1, -0.15), (2005.0, 0.20), (2005.6, 0.50), (2006.1, -0.05), (2006.6, 0.30),
    (2007.2, 0.45), (2007.7, -0.20), (2008.2, 0.15), (2008.8, 0.05), (2009.3, -0.30), (2009.9, 0.25),
    (2010.4, -0.05), (2010.9, 0.20), (2011.5, -0.30), (2012.1, 0.10), (2012.7, 0.15), (2013.2, -0.20),
    (2013.9, 0.00), (2014.6, 0.10), (2015.0, -0.15), (2015.8, 0.05), (2016.3, -0.25), (2016.9, 0.10),
    (2017.5, -0.10), (2018.0, 0.05), (2018.6, -0.30), (2019.3, 0.00), (2019.9, -0.15), (2020.4, 0.10),
    (2021.0, -0.05), (2021.6, 0.15), (2022.4, -0.10), (2023.0, 0.10), (2023.6, -0.30), (2024.2, 0.00),
    (2024.8, 0.15), (2025.3, -0.20), (2025.8, 0.05), (2026.4, 0.25), (2026.8, -0.10), (2027.2, 0.15),
    (2027.7, -0.25), (2028.2, 0.05), (2028.6, 0.20), (2029.0, -0.15), (2029.4, 0.10), (2029.8, -0.30),
    (2030.2, 0.05), (2030.6, -0.10), (2031.0, 0.15), (2031.4, -0.25), (2031.8, 0.00), (2032.2, -0.15),
    (2032.6, 0.05), (2033.0, -0.30), (2033.4, -0.05), (2033.9, -0.15), (2034.3, 0.00), (2034.7, -0.10),
    (2034.1, -0.40), (2034.9, -0.40), (2035.5, -0.30), (2028.0, 0.25),
]
obs_extra_f = [
    (1954.3, 0.47), (1954.9, 0.69), (1955.3, 0.51), (1956.3, 1.34), (1958.8, 0.38), (1959.4, 0.87),
    (1961.4, 0.35), (1962.0, 0.77), (1963.2, 0.55), (1963.8, 0.45), (1964.3, 0.30), (1964.8, 0.15),
    (1981.3, 3.14), (1971.2, 2.63), (1974.9, 2.71), (2020.9, 2.86), (2025.3, 1.99), (2021.8, 1.79),
    (1971.1, 1.56), (2012.4, 1.42), (2005.9, 1.32), (2031.0, 1.59), (2023.8, 1.35), (2024.9, 1.56),
    (2025.4, 1.37), (2026.6, 1.36), (2028.7, 1.27), (2026.3, 1.06), (2027.3, 1.06), (1969.6, 1.16),
    (1984.7, 1.26), (1986.6, 1.11), (1983.0, 1.03), (1980.7, -1.72), (1994.1, -1.51), (1995.9, -1.45),
    (2031.6, -2.01), (1984.9, -0.72), (1987.0, -0.74), (1979.3, -0.67), (1998.7, -0.61), (2005.7, -0.49),
    (2007.1, -0.49), (1990.2, -0.56), (1991.6, -0.59), (1992.5, -0.53), (2026.2, -0.10), (2031.2, -0.18),
    (1997.2, 0.88), (1973.4, 0.95), (1978.0, -0.75),
    (2000.4, 0.25), (2000.9, -0.05), (2001.4, 0.35), (2002.0, 0.10), (2002.5, -0.20), (2003.1, 0.30),
    (2003.6, 0.05), (2004.2, 0.40), (2004.7, -0.15), (2005.2, 0.55), (2005.6, -0.35), (2006.2, 0.20),
    (2006.8, 0.00), (2007.4, 0.45), (2007.9, -0.20), (2008.4, 0.10), (2008.9, 0.30), (2009.4, -0.05),
    (2010.0, 0.35), (2010.6, 0.15), (2011.1, 0.00), (2011.6, 0.50), (2012.2, 0.20), (2012.8, -0.10),
    (2013.5, 0.30), (2014.1, 0.45), (2014.6, 0.60), (2015.2, 0.25), (2015.7, 0.55), (2016.3, 0.35),
    (2016.8, 0.10), (2017.3, 0.40), (2017.9, 0.65), (2018.5, 0.20), (2019.0, 0.50), (2019.6, 0.70),
    (2020.2, 0.30), (2020.6, -0.10), (2021.1, 0.15), (2021.7, 0.55), (2022.3, 0.35), (2022.8, 0.75),
    (2023.2, 0.10), (2023.7, 0.45), (2024.2, 0.90), (2024.6, 0.25), (2025.1, 0.60), (2025.7, 0.35),
    (2026.1, 0.75), (2026.6, 0.05), (2027.0, 0.50), (2027.5, 0.30), (2027.9, 0.70), (2028.3, 0.15),
    (2028.7, 0.45), (2029.1, 0.60), (2029.5, 0.25), (2029.9, 0.50), (2030.3, 0.05), (2030.7, 0.35),
    (2031.1, 0.75), (2031.5, 0.20), (2031.9, 0.40), (2032.3, 0.10), (2032.7, 0.30), (2033.1, 0.05),
    (2033.5, 0.25), (2033.9, 0.15), (2034.3, 0.35), (2034.8, 0.10), (2035.5, 0.22), (2031.3, -0.30),
]

panel_tags = ["(a)", "(b)", "(c)", "(d)", "(e)", "(f)"]
y_labels = ["WCC-\nMobileLab [ppb]", "GAW-\nMobileLab [ppb]", "ICOS-\nMobileLab [ppb]",
            "GAW-\nWCC [ppb]", "ICOS-\nWCC [ppb]", "GAW-\nICOS [ppb]"]
x_labels = ["CH$_4$ MobileLab [ppb]", "CH$_4$ MobileLab [ppb]", "CH$_4$ MobileLab [ppb]",
            "CH$_4$ WCC [ppb]", "CH$_4$ WCC [ppb]", "CH$_4$ ICOS [ppb]"]
# linear fit parameters per panel
fit_slope = [-0.00004, 0.00134, -0.00114, 0.000288, -0.001095, 0.002281]
fit_intercept = [-0.014, -2.431, 2.228, -0.273, 2.220, -4.278]
fit_labels = ["y=-0.000x-0.014\nr$^2$=0.00", "y=0.001x-2.431\nr$^2$=0.00",
              "y=-0.001x+2.228\nr$^2$=0.00", "y=0.000x-0.273\nr$^2$=0.00",
              "y=-0.001x+2.220\nr$^2$=0.00", "y=0.002x-4.278\nr$^2$=0.01"]

core_devs = [dev_core_a, dev_core_b, dev_core_c, dev_core_d, dev_core_e, dev_core_f]
inner_devs = [dev_inner_a, dev_inner_b, dev_inner_c, dev_inner_d, dev_inner_e, dev_inner_f]
extras = [obs_extra_a, obs_extra_b, obs_extra_c, obs_extra_d, obs_extra_e, obs_extra_f]


def panel_frame(core_dev, inner_dev, extra):
    """
    combine core, inner and sparse observations of one panel
    """
    core = pd.DataFrame({"ch4": ch4_core, "diff": core_dev})
    inner = pd.DataFrame({"ch4": ch4_inner, "diff": inner_dev})
    rest = pd.DataFrame(extra, columns=["ch4", "diff"])
    return pd.concat([core, inner, rest], ignore_index=True)


plt.rcParams["font.size"] = 9.3
dot_color = "#1f77b4"

fig, axes = plt.subplots(3, 2, figsize=(2067 / 300, 1571 / 300), dpi=300)
fig.subplots_adjust(left=0.0881, right=0.9985, top=0.9548, bottom=0.0759, wspace=0.182, hspace=0.372)

for i, ax in enumerate(axes.flat):
    row, col = divmod(i, 2)
    df = panel_frame(core_devs[i], inner_devs[i], extras[i])
    ax.axhspan(-2, 2, color="grey", alpha=0.2, zorder=0)
    sns.scatterplot(data=df, x="ch4", y="diff", ax=ax, color=dot_color, alpha=0.8,
                    s=13, linewidth=0, zorder=2, legend=False)
    xfit = np.array([df["ch4"].min(), df["ch4"].max()])
    ax.plot(xfit, fit_slope[i] * xfit + fit_intercept[i], color="k", lw=1.5, zorder=3)
    ax.text(1960, 3.55, fit_labels[i], ha="left", va="top")
    ax.set_title(panel_tags[i], loc="left", fontsize=9.3, pad=3.5)
    ax.set_xlim(1950, 2040)
    ax.set_ylim(-4, 4)
    ax.set_xticks([1960, 1980, 2000, 2020])
    ax.set_yticks([-4, -2, 0, 2, 4])
    if row < 2:
        ax.tick_params(axis="x", labelbottom=False)
    if col == 1:
        ax.tick_params(axis="y", labelleft=False)
    ax.set_xlabel(x_labels[i], labelpad=2.5)
    ax.set_ylabel(y_labels[i])

handles = [Line2D([], [], marker="o", ls="", color=dot_color, alpha=0.8, markersize=4, markeredgewidth=0),
           Line2D([], [], color="k", lw=1.5)]
fig.legend(handles, ["Obs", "Linear fit"], loc="center", bbox_to_anchor=(725 / 2067, 1 - 16 / 1571),
           ncol=2, frameon=False, fontsize=9.3)

fig.savefig("out.png", dpi=300)
